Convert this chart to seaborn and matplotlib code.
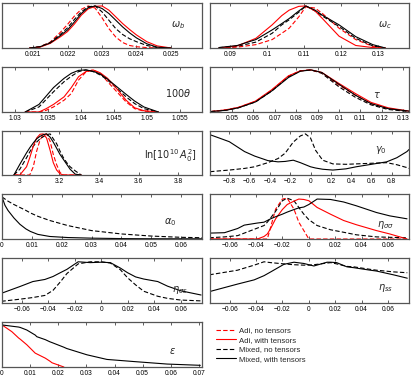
import matplotlib
matplotlib.use("Agg")
import matplotlib.pyplot as plt
from matplotlib.lines import Line2D
import seaborn as sns

# ---------------- data (normalised posteriors) ----------------
# omega_b
wb_x = [0.0209, 0.0212, 0.0215, 0.0218, 0.0220, 0.0222, 0.0224, 0.0226, 0.0228,
        0.0230, 0.0232, 0.0234, 0.0236, 0.0238, 0.0240, 0.0243, 0.0246, 0.0250]
wb_mix_t = [0, .03, .12, .30, .43, .62, .82, .96, 1.0, .94, .82, .66, .50, .36, .24, .10, .02, 0]
wb_adi_t = [0, .02, .11, .27, .39, .57, .78, .93, .99, 1.0, .90, .74, .58, .44, .31, .15, .05, 0]
wb_mix_n = [0, .03, .13, .33, .48, .68, .86, .98, 1.0, .86, .66, .46, .32, .22, .15, .06, .01, 0]
wb_adi_n = [0, .03, .14, .38, .56, .76, .92, 1.0, .95, .72, .46, .26, .13, .06, .03, .01, 0, 0]

# omega_c
wc_x = [0.087, 0.092, 0.097, 0.1014, 0.104, 0.106, 0.1086, 0.1105, 0.113, 0.115,
        0.1195, 0.124, 0.1286, 0.132]
wc_mix_t = [.01, .06, .20, .43, .58, .70, .88, 1.0, .90, .78, .55, .27, .08, 0]
wc_adi_t = [0, .05, .23, .55, .77, .90, .99, 1.0, .88, .70, .28, .06, .01, 0]
wc_mix_n = [.01, .04, .14, .35, .55, .67, .85, 1.0, .88, .76, .51, .23, .05, 0]
wc_adi_n = [0, .02, .08, .20, .35, .47, .74, .98, .95, .82, .47, .20, .04, 0]

# 100 theta
th_x = [1.0315, 1.0336, 1.0347, 1.0358, 1.0374, 1.0385, 1.0396, 1.0407, 1.0418,
        1.0429, 1.0440, 1.0454, 1.0468, 1.0481, 1.0495, 1.0517]
th_mix_t = [0, .18, .38, .58, .80, .92, .99, 1.0, .97, .90, .78, .60, .42, .26, .12, 0]
th_adi_t = [0, 0, .08, .18, .36, .58, .84, .96, 1.0, .93, .80, .55, .28, .10, .03, 0]
th_mix_n = [0, .12, .30, .48, .72, .85, .96, 1.0, .96, .88, .76, .56, .36, .20, .08, 0]
th_adi_n = [0, 0, .04, .12, .28, .44, .76, .95, 1.0, .92, .72, .48, .24, .08, .02, 0]

# tau
tau_x = [0.040, 0.047, 0.053, 0.061, 0.0686, 0.0764, 0.082, 0.087, 0.092, 0.100,
         0.1077, 0.115, 0.123, 0.133]
tau_mix_t = [.01, .04, .10, .24, .50, .82, .97, 1.0, .94, .66, .40, .20, .08, .02]
tau_adi_t = [.01, .05, .11, .26, .53, .86, .98, 1.0, .94, .68, .44, .23, .10, .02]
tau_mix_n = [.01, .04, .10, .24, .50, .84, .98, 1.0, .92, .60, .35, .17, .06, .01]
tau_adi_n = [.01, .05, .11, .25, .52, .85, .98, 1.0, .93, .64, .40, .20, .08, .02]

# ln[10^10 A_0^2]
lnA_x = [2.97, 3.0, 3.034, 3.05, 3.068, 3.085, 3.102, 3.118, 3.135, 3.153, 3.169,
         3.186, 3.203, 3.22, 3.237, 3.254, 3.28, 3.31]
lnA_mix_t = [0, .26, .54, .66, .78, .88, .94, .98, 1.0, .92, .80, .65, .50, .38, .26, .14, .02, 0]
lnA_adi_t = [0, 0, .20, .42, .70, .90, .99, 1.0, .90, .60, .30, .12, .03, 0, 0, 0, 0, 0]
lnA_mix_n = [0, .14, .42, .56, .70, .80, .88, .93, .98, 1.0, .88, .76, .58, .42, .30, .20, .10, 0]
lnA_adi_n = [0, 0, 0, 0, .20, .58, .85, .98, 1.0, .82, .50, .25, .06, 0, 0, 0, 0, 0]

# gamma_0
g0_x = [-0.99, -0.9, -0.8, -0.65, -0.55, -0.42, -0.32, -0.25, -0.17, -0.1, -0.05,
        0.0, 0.05, 0.12, 0.22, 0.35, 0.45, 0.55, 0.75, 0.85, 0.95, 0.97]
g0_mix_t = [.98, .90, .81, .57, .46, .35, .32, .33, .36, .30, .25, .20, .17, .14,
            .12, .15, .20, .24, .32, .42, .57, .62]
g0_mix_n = [.08, .10, .12, .16, .20, .30, .40, .53, .80, .95, 1.0, .90, .60, .36,
            .27, .26, .27, .28, .30, .25, .18, .16]

# alpha_0
a0_x = [0.0, 0.001, 0.002, 0.004, 0.006, 0.008, 0.0095, 0.012, 0.016, 0.022,
        0.03, 0.04, 0.05, 0.06, 0.067]
a0_mix_t = [1.0, .80, .68, .50, .35, .24, .18, .11, .06, .035, .02, .01, .006, .005, .005]
a0_mix_n = [1.0, .95, .90, .82, .75, .68, .62, .54, .44, .32, .20, .12, .07, .04, .03]

# eta_sigma sigma
ess_x = [-0.0755, -0.064, -0.054, -0.049, -0.039, -0.034, -0.0315, -0.029, -0.0252,
         -0.0201, -0.0164, -0.0113, -0.0076, -0.0038, 0.0, 0.0063, 0.0164, 0.0264,
         0.036, 0.0513, 0.0614, 0.0745]
ess_mix_t = [.14, .15, .25, .33, .38, .40, .44, .48, .53, .59, .64, .70, .74, .76,
             .82, .95, .94, .88, .79, .63, .55, .48]
ess_adi_t = [0, 0, 0, 0, 0, .06, .12, .25, .48, .70, .82, .90, .95, .94, .91, .75,
             .59, .44, .34, .20, .12, 0]
ess_mix_n = [.03, .05, .08, .14, .26, .32, .40, .50, .66, .91, .97, .91, .75, .59,
             .46, .32, .22, .16, .10, .05, .04, .03]
ess_adi_n = [0, 0, 0, 0, 0, 0, 0, .28, .71, .95, .97, .71, .40, .20, 0, 0, 0, 0,
             0, 0, 0, 0]

# eta_sigma s
esg_x = [-0.0755, -0.0616, -0.0517, -0.0426, -0.0365, -0.031, -0.026, -0.0175,
         -0.0084, 0.0, 0.0068, 0.0144, 0.0198, 0.0259, 0.032, 0.0426, 0.05, 0.06, 0.0753]
esg_mix_t = [.23, .39, .51, .56, .63, .72, .80, .98, .96, .97, .96, .83, .72, .62,
             .57, .51, .40, .29, .19]
esg_mix_n = [.04, .09, .13, .18, .30, .50, .70, .93, .98, .98, .95, .79, .60, .43,
             .28, .16, .11, .07, .05]

# eta_ss
eta_ss_x = [-0.0755, -0.0541, -0.0415, -0.034, -0.0289, -0.0189, -0.0113, -0.0038,
            0.0, 0.0038, 0.0138, 0.0166, 0.0211, 0.0289, 0.034, 0.0466, 0.0513,
            0.0642, 0.0747]
eta_ss_mix_t = [.27, .45, .55, .65, .74, .92, .97, .94, .91, .88, .97, .97, .96,
                .86, .84, .78, .76, .67, .59]
eta_ss_mix_n = [.67, .78, .90, .98, .96, .93, .91, .90, .90, .91, .95, .96, .93,
                .87, .86, .80, .78, .74, .72]

# epsilon
eps_x = [0.0, 0.0035, 0.0059, 0.0065, 0.0088, 0.0118, 0.0124, 0.0154, 0.017,
         0.0178, 0.022, 0.023, 0.0302, 0.0373, 0.0468, 0.0587, 0.0705]
eps_mix_t = [1.0, .97, .95, .94, .88, .76, .72, .65, .60, .58, .47, .44, .29, .18,
             .13, .07, .04]
eps_adi_t = [1.0, .84, .69, .66, .53, .33, .31, .21, .14, .10, 0, None, None, None,
             None, None, None]

series_names = ["Adi, no tensors", "Adi, with tensors", "Mixed, no tensors",
                "Mixed, with tensors"]

# ---------------- styling ----------------
sns.set_theme(style="ticks")
plt.rcParams["font.family"] = ["Liberation Sans", "DejaVu Sans"]
plt.rcParams["mathtext.fontset"] = "dejavusans"

STY = {
    "adi_n": dict(color="red", linestyle=(0, (4, 2))),
    "adi_t": dict(color="red", linestyle="-"),
    "mix_n": dict(color="black", linestyle=(0, (4, 2))),
    "mix_t": dict(color="black", linestyle="-"),
}

W, H = 415, 376
LEFT = (2, 200)
RIGHT = (210, 199)
ROWS = [(3, 45), (67, 45), (131, 44), (194, 45), (258, 45), (322, 45)]


def make_ax(fig, col, row):
    x0, w = col
    top, h = ROWS[row]
    return fig.add_axes([x0 / W, 1 - (top + h) / H, w / W, h / H])


def fmt(t):
    s = f"{t:g}"
    return s.replace("-", "\u2212")


panels = [
    (LEFT, 0, wb_x, {"adi_n": wb_adi_n, "mix_n": wb_mix_n, "adi_t": wb_adi_t, "mix_t": wb_mix_t},
     (0.0201, 0.0259), [0.021, 0.022, 0.023, 0.024, 0.025], r"$\omega_b$", (0.88, 0.5)),
    (RIGHT, 0, wc_x, {"adi_n": wc_adi_n, "mix_n": wc_mix_n, "adi_t": wc_adi_t, "mix_t": wc_mix_t},
     (0.0846, 0.1384), [0.09, 0.1, 0.11, 0.12, 0.13], r"$\omega_c$", (0.88, 0.5)),
    (LEFT, 1, th_x, {"adi_n": th_adi_n, "mix_n": th_mix_n, "adi_t": th_adi_t, "mix_t": th_mix_t},
     (1.028, 1.0583), [1.03, 1.035, 1.04, 1.045, 1.05, 1.055], r"$100\theta$", (0.88, 0.42)),
    (RIGHT, 1, tau_x, {"adi_n": tau_adi_n, "mix_n": tau_mix_n, "adi_t": tau_adi_t, "mix_t": tau_mix_t},
     (0.0397, 0.1328), [0.05, 0.06, 0.07, 0.08, 0.09, 0.1, 0.11, 0.12, 0.13], r"$\tau$", (0.84, 0.38)),
    (LEFT, 2, lnA_x, {"adi_n": lnA_adi_n, "mix_n": lnA_mix_n, "adi_t": lnA_adi_t, "mix_t": lnA_mix_t},
     (2.91, 3.92), [3, 3.2, 3.4, 3.6, 3.8], r"$\ln[10^{10}\,A_0^2]$", (0.84, 0.45)),
    (RIGHT, 2, g0_x, {"mix_n": g0_mix_n, "mix_t": g0_mix_t},
     (-0.99, 0.97), [-0.8, -0.6, -0.4, -0.2, 0, 0.2, 0.4, 0.6, 0.8], r"$\gamma_0$", (0.86, 0.57)),
    (LEFT, 3, a0_x, {"mix_n": a0_mix_n, "mix_t": a0_mix_t},
     (0, 0.067), [0, 0.01, 0.02, 0.03, 0.04, 0.05, 0.06], r"$\alpha_0$", (0.84, 0.38)),
    (RIGHT, 3, ess_x, {"adi_n": ess_adi_n, "mix_n": ess_mix_n, "adi_t": ess_adi_t, "mix_t": ess_mix_t},
     (-0.075, 0.076), [-0.06, -0.04, -0.02, 0, 0.02, 0.04, 0.06], r"$\eta_{\sigma\sigma}$", (0.88, 0.3)),
    (LEFT, 4, esg_x, {"mix_n": esg_mix_n, "mix_t": esg_mix_t},
     (-0.075, 0.076), [-0.06, -0.04, -0.02, 0, 0.02, 0.04, 0.06], r"$\eta_{\sigma s}$", (0.89, 0.3)),
    (RIGHT, 4, eta_ss_x, {"mix_n": eta_ss_mix_n, "mix_t": eta_ss_mix_t},
     (-0.075, 0.076), [-0.06, -0.04, -0.02, 0, 0.02, 0.04, 0.06], r"$\eta_{ss}$", (0.88, 0.33)),
    (LEFT, 5, eps_x, {"adi_t": eps_adi_t, "mix_t": eps_mix_t},
     (0, 0.0711), [0, 0.01, 0.02, 0.03, 0.04, 0.05, 0.06, 0.07], r"$\varepsilon$", (0.85, 0.35)),
]

fig = plt.figure(figsize=(W / 100, H / 100), dpi=100)

for col, row, xs, curves, xlim, ticks, label, lpos in panels:
    ax = make_ax(fig, col, row)
    for key, ys in curves.items():
        pts = [(x, y) for x, y in zip(xs, ys) if y is not None]
        sns.lineplot(x=[p[0] for p in pts], y=[p[1] for p in pts], ax=ax,
                     lw=0.8, sort=False, estimator=None, **STY[key])
    ax.set_xlim(*xlim)
    ax.set_ylim(0, 1.07)
    ax.set_xticks(ticks)
    ax.set_xticklabels([fmt(t) for t in ticks])
    ax.set_yticks([])
    ax.tick_params(axis="x", direction="in", length=2.5, width=0.6, pad=2,
                   labelsize=4.8, top=True, colors="#444444", labelcolor="black")
    for sp in ax.spines.values():
        sp.set_color("#555555")
        sp.set_linewidth(0.9)
    ax.set_xlabel("")
    ax.set_ylabel("")
    ax.text(lpos[0], lpos[1], label, transform=ax.transAxes, ha="center",
            va="center", fontsize=7)

handles = [Line2D([], [], lw=0.8, **STY[k]) for k in ["adi_n", "adi_t", "mix_n", "mix_t"]]
fig.legend(handles, series_names, loc="upper left", bbox_to_anchor=(216 / W, 1 - 327 / H),
           frameon=False, fontsize=5.6, handlelength=2.6, handletextpad=0.3,
           labelspacing=0.25, borderpad=0, borderaxespad=0)

fig.savefig("out.png", dpi=100)
